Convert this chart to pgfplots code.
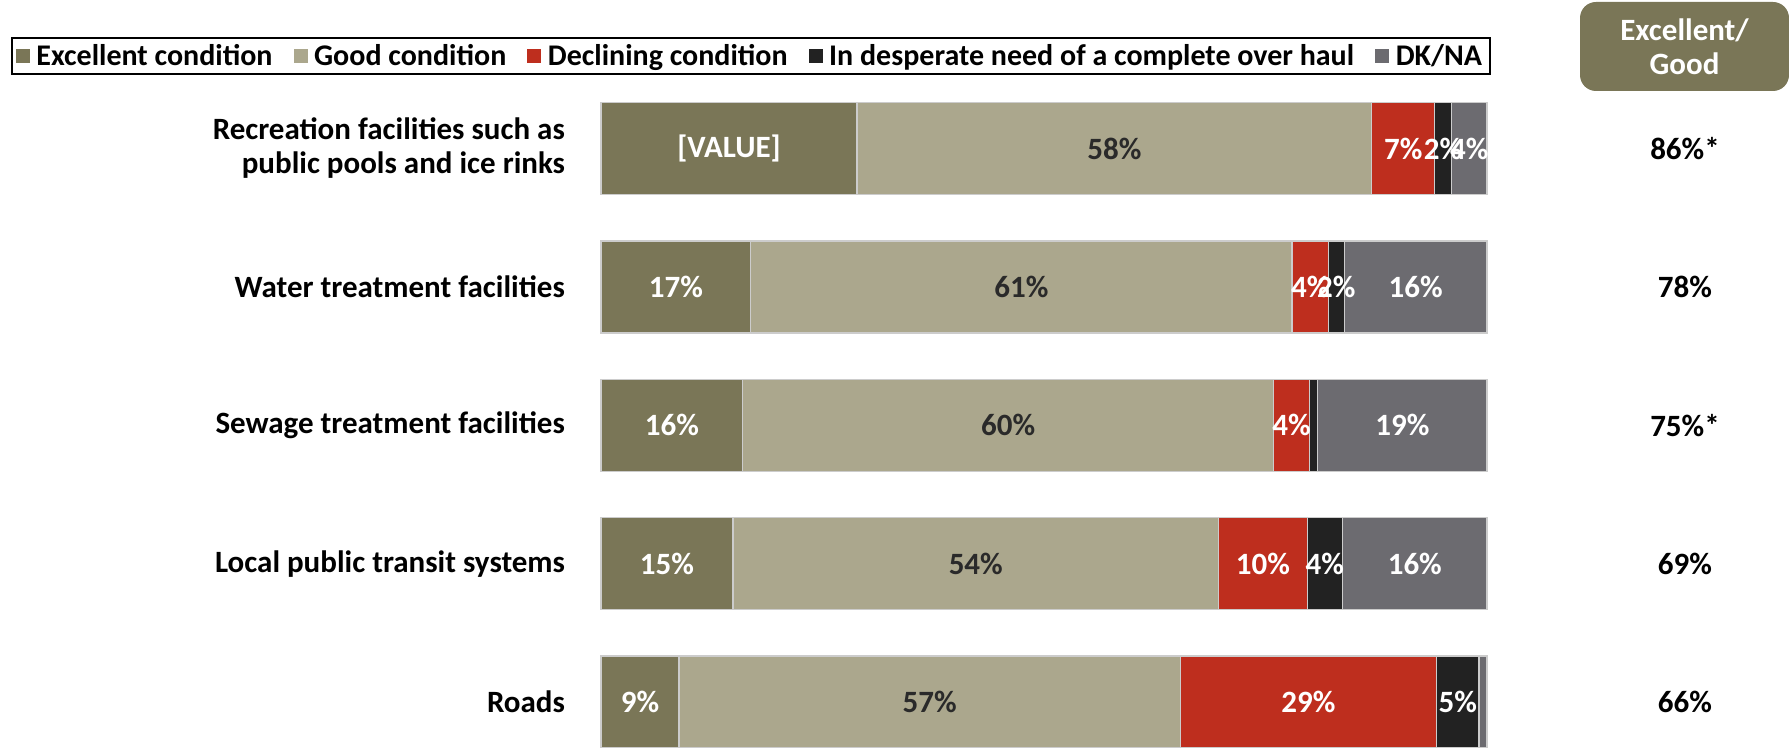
\documentclass[border=0pt]{standalone}
\usepackage{pgfplots}
\pgfplotsset{compat=1.18}
\usepackage{fontspec}
\setmainfont{Carlito}
\definecolor{exc}{HTML}{7A7657}
\definecolor{good}{HTML}{ABA78D}
\definecolor{decl}{HTML}{BE2E1E}
\definecolor{desp}{HTML}{222222}
\definecolor{dkna}{HTML}{6C6B70}
\definecolor{lbl}{HTML}{2A2A2A}
\newcommand\lf{\bfseries\fontsize{15.5}{17}\selectfont}
\newcommand\lgf{\bfseries\fontsize{15}{17}\selectfont}
\begin{document}
\begin{tikzpicture}
\useasboundingbox (0,0) rectangle (894.5pt,-374pt);
\begin{axis}[
  at={(300.5pt,-39.65pt)}, anchor=north west,
  scale only axis, width=443pt, height=346pt,
  xmin=0, xmax=100, ymin=-0.5, ymax=4.5, y dir=reverse,
  hide axis,
  xbar stacked, bar width=46pt,
  point meta=explicit symbolic,
  nodes near coords,
  every node near coord/.append style={anchor=center, font=\lf},
  legend columns=5,
  legend style={at={(-0.6659,1.0337)}, anchor=west, font=\lgf, draw=black, line width=0.8pt, inner xsep=2pt, inner ysep=1pt,
    /tikz/every even column/.append style={column sep=8.5pt}},
  legend image code/.code={\path[#1,draw=none] (0pt,-3.5pt) rectangle (7pt,3.5pt); \path (8pt,0pt);},
  clip=false,
]
\addplot[fill=exc, draw=white!80!black, line width=0.6pt, every node near coord/.append style={text=white}]
  coordinates {(28.9,0) [{[VALUE]}] (16.9,1) [17\%] (16.0,2) [16\%] (14.9,3) [15\%] (8.8,4) [9\%]};
\addplot[fill=good, draw=white!80!black, line width=0.6pt, every node near coord/.append style={text=lbl}]
  coordinates {(58.1,0) [58\%] (61.1,1) [61\%] (59.9,2) [60\%] (54.8,3) [54\%] (56.6,4) [57\%]};
\addplot[fill=decl, draw=white!80!black, line width=0.6pt, every node near coord/.append style={text=white}]
  coordinates {(7.1,0) [7\%] (4.1,1) [4\%] (4.1,2) [4\%] (10.0,3) [10\%] (28.9,4) [29\%]};
\addplot[fill=desp, draw=white!80!black, line width=0.6pt, every node near coord/.append style={text=white}]
  coordinates {(1.9,0) [2\%] (1.8,1) [2\%] (0.9,2) [{}] (4.0,3) [4\%] (4.8,4) [5\%]};
\addplot[fill=dkna, draw=white!80!black, line width=0.6pt, every node near coord/.append style={text=white}]
  coordinates {(4.0,0) [4\%] (16.1,1) [16\%] (19.1,2) [19\%] (16.3,3) [16\%] (0.9,4) [{}]};
\legend{Excellent condition, Good condition, Declining condition, In desperate need of a complete over haul, DK/NA}
\node[anchor=east, align=right, font=\lf, xshift=-14.5pt] at (axis cs:0,0) {Recreation facilities such as\\public pools and ice rinks};
\node[anchor=east, align=right, font=\lf, xshift=-14.5pt] at (axis cs:0,1) {Water treatment facilities};
\node[anchor=east, align=right, font=\lf, xshift=-14.5pt] at (axis cs:0,2) {Sewage treatment facilities};
\node[anchor=east, align=right, font=\lf, xshift=-14.5pt] at (axis cs:0,3) {Local public transit systems};
\node[anchor=east, align=right, font=\lf, xshift=-14.5pt] at (axis cs:0,4) {Roads};
\node[font=\lf, xshift=99pt] at (axis cs:100,0) {86\%*};
\node[font=\lf, xshift=99pt] at (axis cs:100,1) {78\%};
\node[font=\lf, xshift=99pt] at (axis cs:100,2) {75\%*};
\node[font=\lf, xshift=99pt] at (axis cs:100,3) {69\%};
\node[font=\lf, xshift=99pt] at (axis cs:100,4) {66\%};
\end{axis}
\node[fill=exc, rounded corners=8pt, text=white, font=\lf, align=center, minimum width=104.5pt, minimum height=44.5pt, inner sep=0pt] at (842.25pt,-23.25pt) {Excellent/\\Good};
\end{tikzpicture}
\end{document}
